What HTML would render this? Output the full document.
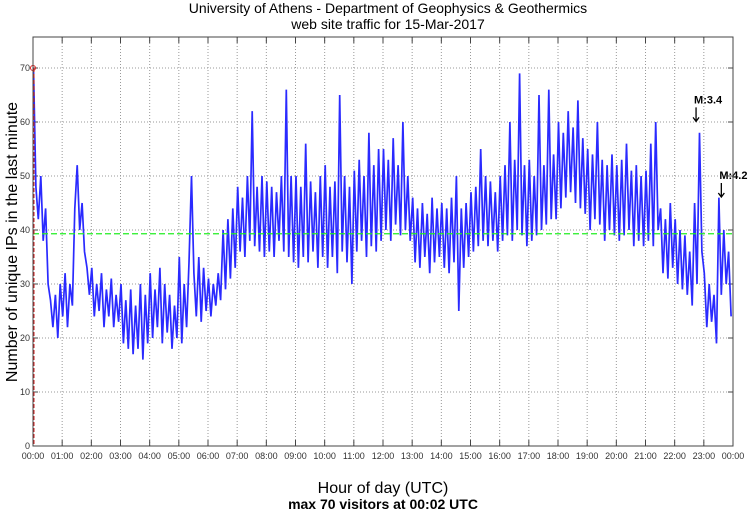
<!DOCTYPE html>
<html><head><meta charset="utf-8"><style>
html,body{margin:0;padding:0;background:#fff;}
svg{display:block;font-family:"Liberation Sans",sans-serif;}
</style></head><body>
<svg id="chart" width="750" height="511">
<text x="388" y="13" font-size="14" text-anchor="middle">University of Athens - Department of Geophysics &amp; Geothermics</text>
<text x="388" y="29" font-size="14" text-anchor="middle">web site traffic for 15-Mar-2017</text>
<text x="383" y="493" font-size="16" text-anchor="middle">Hour of day (UTC)</text>
<text x="383" y="509" font-size="14" font-weight="bold" text-anchor="middle">max 70 visitors at 00:02 UTC</text>
<text transform="translate(17,242) rotate(-90)" font-size="16" text-anchor="middle">Number of unique IPs in the last minute</text>
<g id="grid"></g><g id="ticks"></g><g id="series"></g><g id="overlay"></g>
<rect x="33" y="37" width="700" height="409" fill="none" stroke="#444" stroke-width="1"/>
</svg>
<script>
const yTicks=[0,10,20,30,40,50,60,70];
const hourLabels=["00:00","01:00","02:00","03:00","04:00","05:00","06:00","07:00","08:00","09:00","10:00","11:00","12:00","13:00","14:00","15:00","16:00","17:00","18:00","19:00","20:00","21:00","22:00","23:00","00:00"];
const meanValue=39.3;
const maxValue=70;
const events=[{label:"M:3.4",minute:1364,value:59},{label:"M:4.2",minute:1416,value:45}];
const visitors=[
70,48,42,50,38,44,30,27,22,28,20,30,
24,32,22,30,26,44,52,40,45,36,33,28,
33,24,30,25,32,22,29,24,31,22,28,23,
30,19,27,18,29,17,26,18,30,16,28,19,
32,20,29,22,33,19,30,21,28,18,26,20,
35,19,30,22,34,50,32,24,35,23,33,25,
31,24,30,26,32,27,40,29,42,31,44,33,
48,36,46,35,50,38,62,37,48,36,50,35,
49,36,48,35,47,38,50,36,66,35,50,34,
50,33,48,35,56,34,49,36,47,33,50,35,
52,33,48,35,49,32,65,36,50,34,48,30,
51,36,53,38,50,35,58,37,52,36,55,38,
55,40,53,38,57,41,52,39,60,40,50,38,
46,34,44,33,45,35,43,32,46,34,44,35,
45,33,44,32,46,34,50,25,44,33,45,35,
47,36,48,37,55,38,50,37,49,38,47,36,
50,38,52,39,60,38,53,40,69,39,52,37,
53,38,50,39,65,40,52,41,66,42,54,42,
60,44,58,46,62,47,59,45,64,44,57,43,
55,40,54,42,60,41,53,38,52,40,54,39,
52,38,53,39,56,40,51,37,52,38,50,37,
51,38,56,37,60,40,44,32,42,31,45,33,
42,30,40,29,39,28,36,26,45,30,58,36,
32,22,30,23,28,19,46,28,40,30,36,24];
const NS="http://www.w3.org/2000/svg";
const X0=33,X1=733,Y0=446,YTOP=37;
const xScale=m=>X0+(X1-X0)*m/1440;
const yScale=v=>Y0-v*5.4;
function mk(tag,attrs,parent){const e=document.createElementNS(NS,tag);for(const k in attrs)e.setAttribute(k,attrs[k]);parent.appendChild(e);return e;}
const grid=document.getElementById('grid'),ticks=document.getElementById('ticks'),series=document.getElementById('series'),ov=document.getElementById('overlay');
yTicks.forEach(v=>{const y=yScale(v);
 if(v>0){const g=mk('line',{x1:X0,x2:X1,y1:y,y2:y,stroke:'#999','stroke-dasharray':'1,2'},grid);
 
 }
 mk('line',{x1:X0,x2:X0+5,y1:y,y2:y,stroke:'#444'},ticks);
 mk('line',{x1:X1-5,x2:X1,y1:y,y2:y,stroke:'#444'},ticks);
 const t=mk('text',{x:X0-3,y:y+3,'font-size':9,'text-anchor':'end',fill:'#333'},ticks);t.textContent=v;
 
 
});
hourLabels.forEach((l,i)=>{const x=xScale(i*60);
 if(i>0&&i<24){const g=mk('line',{x1:x,x2:x,y1:YTOP,y2:Y0,stroke:'#999','stroke-dasharray':'1,2'},grid);
 
 }
 mk('line',{x1:x,x2:x,y1:Y0,y2:Y0-6,stroke:'#444'},ticks);
 mk('line',{x1:x,x2:x,y1:YTOP,y2:YTOP+6,stroke:'#444'},ticks);
 const t=mk('text',{x:x,y:Y0+13,'font-size':9,'text-anchor':'middle',fill:'#333'},ticks);t.textContent=l;
 
 
});
const step=1440/visitors.length;
const pts=visitors.map((v,i)=>xScale(i*step+1).toFixed(1)+','+yScale(v).toFixed(1)).join(' ');
const line=mk('polyline',{points:pts,fill:'none',stroke:'#2a2aff','stroke-width':1.7,'stroke-linejoin':'bevel'},series);


const mean=mk('line',{x1:X0,x2:X1,y1:yScale(meanValue),y2:yScale(meanValue),stroke:'#22ee22','stroke-width':1.2,'stroke-dasharray':'6,3'},ov);


const red=mk('line',{x1:X0+1,x2:X0+1,y1:yScale(maxValue),y2:Y0,stroke:'#cc2222','stroke-dasharray':'4,2'},ov);


const c=mk('circle',{cx:X0,cy:yScale(maxValue),r:2.5,fill:'none',stroke:'#dd2222'},ov);


events.forEach(e=>{const x=xScale(e.minute),y=yScale(e.value);
 const a=mk('path',{d:`M${x},${y-20} L${x},${y-6} M${x-3},${y-10} L${x},${y-6} L${x+3},${y-10}`,fill:'none',stroke:'#000','stroke-width':1.3},ov);
 
 
 const t=mk('text',{x:x-2,y:y-24,'font-size':11,'font-weight':'bold'},ov);t.textContent=e.label;
 
 
});
</script>
</body></html>
